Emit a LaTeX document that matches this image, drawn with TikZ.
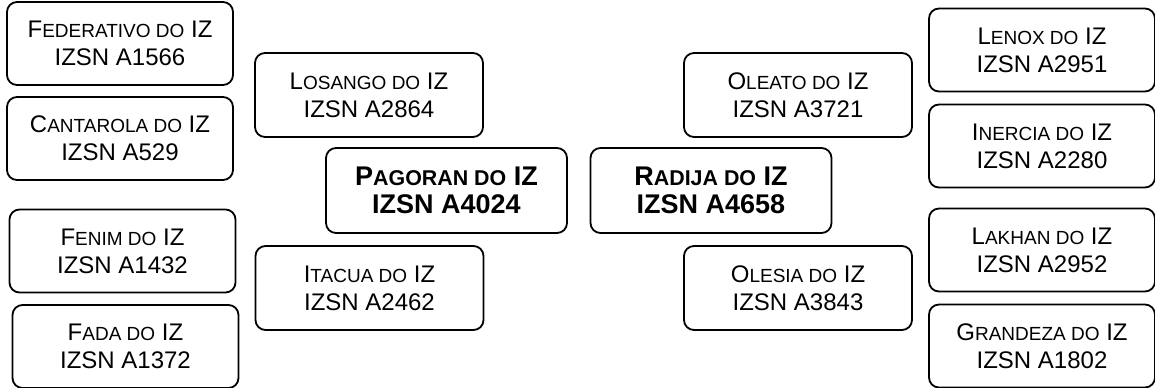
\documentclass[tikz,border=0pt]{standalone}
\usepackage{fontspec}
\setmainfont{Liberation Sans}
\newcommand\ksc[2]{#1{\fontsize{9.5}{14}\selectfont\MakeUppercase{#2}}}
\newcommand\kscb[2]{#1{\fontsize{10.7}{14}\selectfont\MakeUppercase{#2}}}
\tikzset{
  animal/.style={draw,rounded corners=5pt,line width=0.9pt,align=center,
    inner sep=0pt,minimum width=113pt,minimum height=41.5pt,
    font=\fontsize{12}{14}\selectfont},
  mid/.style={animal,minimum width=114pt,minimum height=42pt},
  main/.style={animal,minimum width=120.5pt,minimum height=42.5pt,
    font=\fontsize{13.5}{14}\selectfont\bfseries}
}
\begin{document}
\begin{tikzpicture}[x=0.5pt,y=-0.5pt]
  \useasboundingbox (0,0) rectangle (1155,387);
  \node[animal] (fed) at (120,43.5) {\ksc{F}{ederativo do} IZ\\IZSN A1566};
  \node[animal] (can) at (120,138.5) {\ksc{C}{antarola do} IZ\\IZSN A529};
  \node[animal] (fen) at (122.5,251) {\ksc{F}{enim do} IZ\\IZSN A1432};
  \node[animal] (fada) at (125.5,346.5) {\ksc{F}{ada do} IZ\\IZSN A1372};
  \node[mid] (los) at (369,95) {\ksc{L}{osango do} IZ\\IZSN A2864};
  \node[mid] (ita) at (369.5,288) {\ksc{I}{tacua do} IZ\\IZSN A2462};
  \node[main] (pag) at (446.5,190.5) {\kscb{P}{agoran do} IZ\\IZSN A4024};
  \node[main] (rad) at (711,190.5) {\kscb{R}{adija do} IZ\\IZSN A4658};
  \node[mid] (ole) at (798,95) {\ksc{O}{leato do} IZ\\IZSN A3721};
  \node[mid] (oles) at (798,288) {\ksc{O}{lesia do} IZ\\IZSN A3843};
  \node[animal] (len) at (1042,50) {\ksc{L}{enox do} IZ\\IZSN A2951};
  \node[animal] (ine) at (1042,146) {\ksc{I}{nercia do} IZ\\IZSN A2280};
  \node[animal] (lak) at (1042,250) {\ksc{L}{akhan do} IZ\\IZSN A2952};
  \node[animal] (gra) at (1042,346) {\ksc{G}{randeza do} IZ\\IZSN A1802};
\end{tikzpicture}
\end{document}
